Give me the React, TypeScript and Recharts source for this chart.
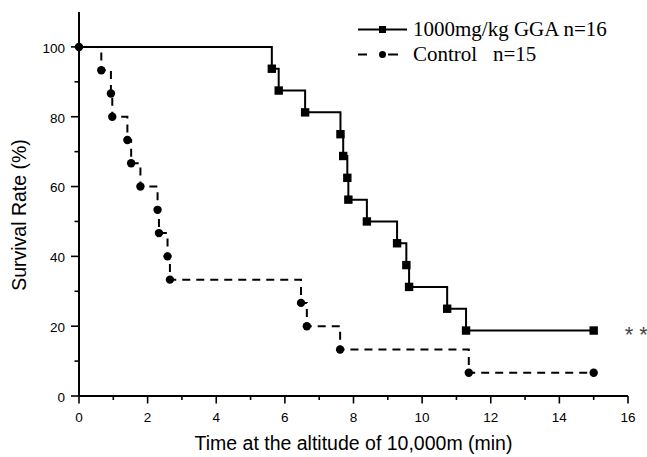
import React from "react";
import { LineChart, Line, XAxis, YAxis, ReferenceDot, Label } from "recharts";

// time to event (min) and survival (%)
const ggaTime = [0, 5.62, 5.82, 6.59, 7.62, 7.7, 7.82, 7.85, 8.39, 9.27, 9.54, 9.62, 10.73, 11.28, 15];
const ggaSurvival = [100, 93.75, 87.5, 81.25, 75, 68.75, 62.5, 56.25, 50, 43.75, 37.5, 31.25, 25, 18.75, 18.75];

const ctrlTime = [0, 0.65, 0.93, 0.97, 1.41, 1.52, 1.79, 2.29, 2.33, 2.58, 2.65, 6.47, 6.64, 7.61, 11.36, 15];
const ctrlSurvival = [100, 93.33, 86.67, 80, 73.33, 66.67, 60, 53.33, 46.67, 40, 33.33, 26.67, 20, 13.33, 6.67, 6.67];

const xTicks = [0, 1, 2, 3, 4, 5, 6, 7, 8, 9, 10, 11, 12, 13, 14, 15, 16];
const yTicks = [0, 10, 20, 30, 40, 50, 60, 70, 80, 90, 100];

const ggaLabel = "1000mg/kg GGA n=16";
const ctrlLabel = "Control";
const ctrlN = "n=15";

const ggaData = ggaTime.map((t, i) => ({ t, s: ggaSurvival[i] }));
const ctrlData = ctrlTime.map((t, i) => ({ t, s: ctrlSurvival[i] }));

const SANS = "'Liberation Sans', Arial, sans-serif";
const SERIF = "'Liberation Serif', 'Times New Roman', serif";

const XTick = (props: any) => {
  const { x, y, payload } = props;
  const major = payload.value % 2 === 0;
  return (
    <g>
      <line x1={x} y1={y} x2={x} y2={y + (major ? 7.5 : 4)} stroke="#000" strokeWidth={1.6} />
      {major && (
        <text x={x} y={y + 25.5} textAnchor="middle" fontFamily={SANS} fontSize={13.5} fill="#000">
          {payload.value}
        </text>
      )}
    </g>
  );
};

const YTick = (props: any) => {
  const { x, y, payload } = props;
  const major = payload.value % 20 === 0;
  return (
    <g>
      <line x1={x} y1={y} x2={x - (major ? 8 : 4.5)} y2={y} stroke="#000" strokeWidth={1.6} />
      {major && (
        <text x={x - 14} y={y + 5.8} textAnchor="end" fontFamily={SANS} fontSize={13.5} fill="#000">
          {payload.value}
        </text>
      )}
    </g>
  );
};

const squareDot = (props: any) => {
  const { cx, cy, index } = props;
  if (index === 0) return <g key={`sq-${index}`} />;
  return <rect key={`sq-${index}`} x={cx - 4.2} y={cy - 4.2} width={8.4} height={8.4} fill="#000" />;
};

const circleDot = (props: any) => {
  const { cx, cy, index } = props;
  return <circle key={`ci-${index}`} cx={cx} cy={cy} r={4.2} fill="#000" />;
};

export default function App() {
  return (
    <div style={{ position: "absolute", left: 0, top: 0, width: 647, height: 457, background: "#fff" }}>
      <LineChart width={647} height={457} margin={{ top: 12, right: 19, left: 0, bottom: 0 }}>
        <XAxis
          type="number"
          dataKey="t"
          domain={[0, 16]}
          ticks={xTicks}
          interval={0}
          height={61}
          tickSize={0}
          tickMargin={0}
          tickLine={false}
          tick={<XTick />}
          axisLine={{ stroke: "#000", strokeWidth: 2 }}
        >
          <Label
            content={(p: any) => (
              <text
                x={p.viewBox.x + p.viewBox.width / 2}
                y={p.viewBox.y + 54}
                textAnchor="middle"
                fontFamily={SANS}
                fontSize={19.5}
                fill="#000"
              >
                Time at the altitude of 10,000m (min)
              </text>
            )}
          />
        </XAxis>
        <YAxis
          type="number"
          domain={[0, 110]}
          ticks={yTicks}
          interval={0}
          width={79}
          tickSize={0}
          tickMargin={0}
          tickLine={false}
          tick={<YTick />}
          axisLine={{ stroke: "#000", strokeWidth: 2 }}
        >
          <Label
            content={() => (
              <text
                x={26}
                y={215}
                transform="rotate(-90, 26, 215)"
                textAnchor="middle"
                fontFamily={SANS}
                fontSize={19.5}
                fill="#000"
              >
                Survival Rate (%)
              </text>
            )}
          />
        </YAxis>
        <Line
          data={ctrlData}
          dataKey="s"
          type="stepAfter"
          stroke="#000"
          strokeWidth={2}
          strokeDasharray="8 6"
          dot={circleDot}
          activeDot={false}
          isAnimationActive={false}
        />
        <Line
          data={ggaData}
          dataKey="s"
          type="stepAfter"
          stroke="#000"
          strokeWidth={2}
          dot={squareDot}
          activeDot={false}
          isAnimationActive={false}
        />
        <ReferenceDot
          x={15}
          y={18.75}
          r={0}
          stroke="none"
          label={(p: any) => (
            <text x={p.viewBox.x + 31} y={p.viewBox.y + 11} fontFamily={SANS} fontSize={22} fill="#444">
              * *
            </text>
          )}
        />
      </LineChart>
      <svg width={647} height={457} style={{ position: "absolute", left: 0, top: 0, pointerEvents: "none" }}>
        <line x1={358} y1={29.5} x2={407} y2={29.5} stroke="#000" strokeWidth={2} />
        <rect x={379} y={26} width={7} height={7} fill="#000" />
        <text x={413} y={36} fontFamily={SERIF} fontSize={21} fill="#000">
          {ggaLabel}
        </text>
        <line x1={358} y1={54.5} x2={367} y2={54.5} stroke="#000" strokeWidth={2} />
        <circle cx={382.5} cy={54.5} r={3.5} fill="#000" />
        <line x1={388} y1={54.5} x2={398} y2={54.5} stroke="#000" strokeWidth={2} />
        <text x={413} y={61} fontFamily={SERIF} fontSize={21} fill="#000">
          {ctrlLabel}
        </text>
        <text x={493} y={61} fontFamily={SERIF} fontSize={21} fill="#000">
          {ctrlN}
        </text>
      </svg>
    </div>
  );
}
